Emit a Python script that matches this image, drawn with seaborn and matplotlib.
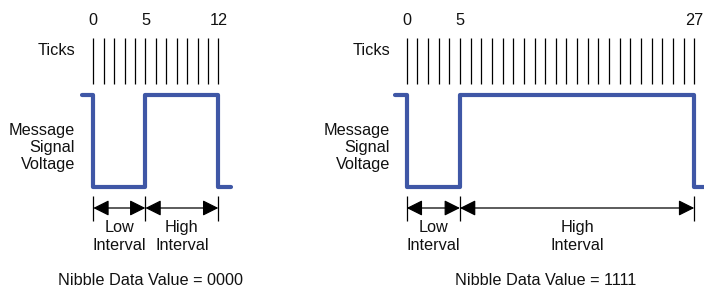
import matplotlib
matplotlib.use("Agg")
import matplotlib.pyplot as plt
import seaborn as sns
import pandas as pd

# ---- data ----
panel_names = ["left", "right"]
total_ticks = [12, 27]          # ticks per nibble frame
low_ticks = [5, 5]              # low interval length (ticks)
tick_labels = [["0", "5", "12"], ["0", "5", "27"]]
nibble_values = ["0000", "1111"]
signal_levels = [1, 1, 0, 0, 1, 1, 0, 0]   # high / low voltage pattern

# ---- style / layout ----
sns.set_theme(style="white")
plt.rcParams["font.family"] = ["Liberation Sans", "DejaVu Sans"]
plt.rcParams["text.color"] = "#111111"
W, H = 704, 288
BLUE = "#3F57A6"
FS = 11.7
HIGH_Y, LOW_Y = 95, 187

# pixel layout of each panel: (axes left px, axes right px, tick0 px, px per tick)
layout = [(0, 310, 93.3, 10.42), (310, 704, 406.7, 10.65)]
text_right = [75, 390]

fig = plt.figure(figsize=(W / 100, H / 100), dpi=100)

for i in range(2):
    a0, a1, t0, sp = layout[i]
    ax = fig.add_axes([a0 / W, 0, (a1 - a0) / W, 1])
    ax.set_xlim((a0 - t0) / sp, (a1 - t0) / sp)
    ax.set_ylim(H, 0)
    ax.set_axis_off()

    N = total_ticks[i]
    L = low_ticks[i]
    pre = -11.5 / sp

    # tick marks
    ax.vlines(list(range(N + 1)), 38, 84, color="black", lw=0.9)
    for lab in tick_labels[i]:
        ax.text(int(lab), 25, lab, ha="center", va="baseline", fontsize=FS)

    # signal
    xs = [pre, 0, 0, L, L, N, N, N + 1.25]
    ys = [LOW_Y - (LOW_Y - HIGH_Y) * v for v in signal_levels]
    df = pd.DataFrame({"t": xs, "v": ys})
    sns.lineplot(data=df, x="t", y="v", sort=False, estimator=None, ax=ax,
                 color=BLUE, linewidth=3.0)
    for ln in ax.get_lines():
        ln.set_solid_joinstyle("round")
        ln.set_solid_capstyle("round")
    ax.set_xlabel("")
    ax.set_ylabel("")

    # interval markers
    ax.vlines([0, L, N], 196, 221, color="black", lw=0.9)
    for (s, e) in [(0, L), (L, N)]:
        ax.annotate("", xy=(s, 208), xytext=(e, 208),
                    arrowprops=dict(arrowstyle="<|-|>,head_length=0.6,head_width=0.3",
                                    color="black", lw=0.9, mutation_scale=16,
                                    shrinkA=0, shrinkB=0))
    ax.text(L / 2, 232, "Low", ha="center", va="baseline", fontsize=FS)
    ax.text(L / 2, 250, "Interval", ha="center", va="baseline", fontsize=FS)
    ax.text((L + N) / 2, 232, "High", ha="center", va="baseline", fontsize=FS)
    ax.text((L + N) / 2, 250, "Interval", ha="center", va="baseline", fontsize=FS)

    # left labels
    tr = (text_right[i] - t0) / sp
    ax.text(tr, 55, "Ticks", ha="right", va="baseline", fontsize=FS)
    for txt, yb in zip(["Message", "Signal", "Voltage"], [135, 152, 169]):
        ax.text(tr, yb, txt, ha="right", va="baseline", fontsize=FS)

    ax.text(N / 2 - 0.5, 285, f"Nibble Data Value = {nibble_values[i]}",
            ha="center", va="baseline", fontsize=FS)

fig.savefig("out.png", dpi=100)
